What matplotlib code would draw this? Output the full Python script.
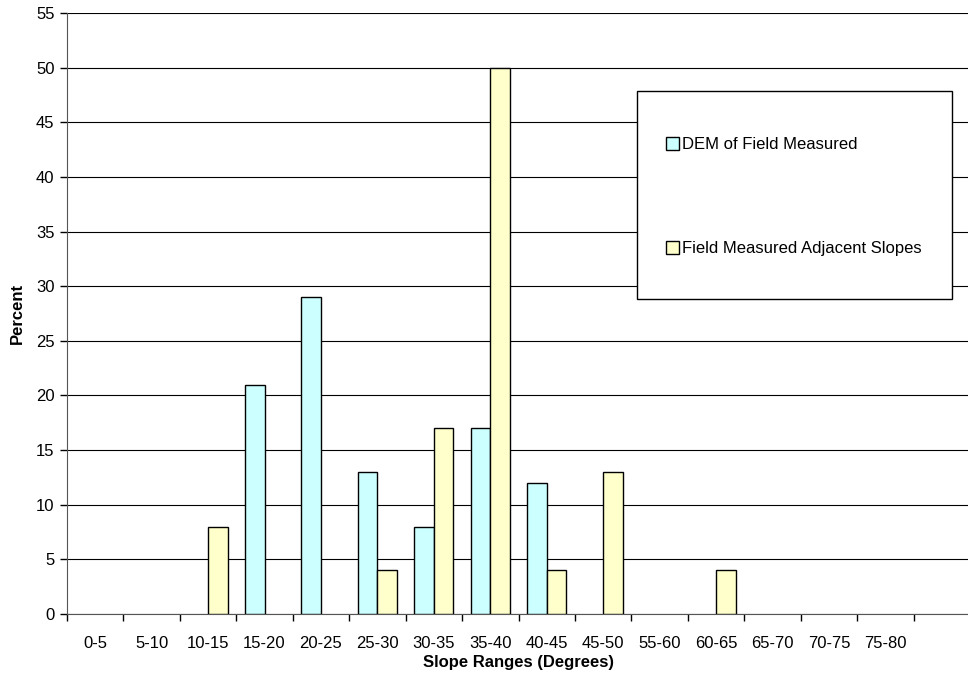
import matplotlib.pyplot as plt
from matplotlib.patches import Rectangle
import numpy as np

plt.rcParams['font.family'] = ['Liberation Sans', 'DejaVu Sans']

categories = ['0-5', '5-10', '10-15', '15-20', '20-25', '25-30', '30-35', '35-40',
              '40-45', '45-50', '55-60', '60-65', '65-70', '70-75', '75-80', '']
dem_field = [0, 0, 0, 21, 29, 13, 8, 17, 12, 0, 0, 0, 0, 0, 0, 0]
field_adjacent = [0, 0, 8, 0, 0, 4, 17, 50, 4, 13, 0, 4, 0, 0, 0, 0]

fig = plt.figure(figsize=(9.68, 6.75), dpi=100)
ax = fig.add_axes([67 / 968, 1 - 614 / 675, 903 / 968, 601 / 675])

x = np.arange(len(categories))
w = 0.345
dem = np.array(dem_field, dtype=float)
adj = np.array(field_adjacent, dtype=float)
# zero values are not drawn (no flat bars on the axis)
dem[dem == 0] = np.nan
adj[adj == 0] = np.nan
ax.bar(x - w / 2, dem, w, color='#CCFFFF', edgecolor='black', linewidth=1,
       label='DEM of Field Measured', zorder=3)
ax.bar(x + w / 2, adj, w, color='#FFFFCC', edgecolor='black', linewidth=1,
       label='Field Measured Adjacent Slopes', zorder=3)

ax.set_xlim(-0.5, len(categories) - 0.5)
ax.set_ylim(0, 55)
ax.set_yticks(np.arange(0, 56, 5))
ax.yaxis.grid(True, color='black', linewidth=0.8, zorder=0)

ax.set_xticks(x)
ax.set_xticklabels(categories)
ax.set_xticks(np.arange(-0.5, len(categories), 1), minor=True)
ax.tick_params(axis='x', which='major', length=0, pad=16, labelsize=12)
ax.tick_params(axis='x', which='minor', length=5, width=1, direction='out')
ax.tick_params(axis='y', length=5, width=1, labelsize=12, pad=4)

for s in ['top', 'right']:
    ax.spines[s].set_visible(False)
ax.spines['left'].set_color('#555555')
ax.spines['bottom'].set_color('#555555')

ax.set_xlabel('Slope Ranges (Degrees)', fontweight='bold', fontsize=12, labelpad=3)
ax.set_ylabel('Percent', fontweight='bold', fontsize=12, labelpad=8)

# legend box
box = Rectangle((637 / 968, 1 - 299 / 675), 315 / 968, 208 / 675,
                transform=fig.transFigure, facecolor='white', edgecolor='black',
                linewidth=1, zorder=5)
fig.patches.append(box)
leg = fig.legend(loc='upper left', bbox_to_anchor=(658 / 968, 1 - 129 / 675),
                 frameon=False, fontsize=12, handlelength=0.75, handleheight=0.75,
                 handletextpad=0.2, labelspacing=5.34, borderpad=0)
leg.set_zorder(6)

fig.savefig('out.png', dpi=100)
